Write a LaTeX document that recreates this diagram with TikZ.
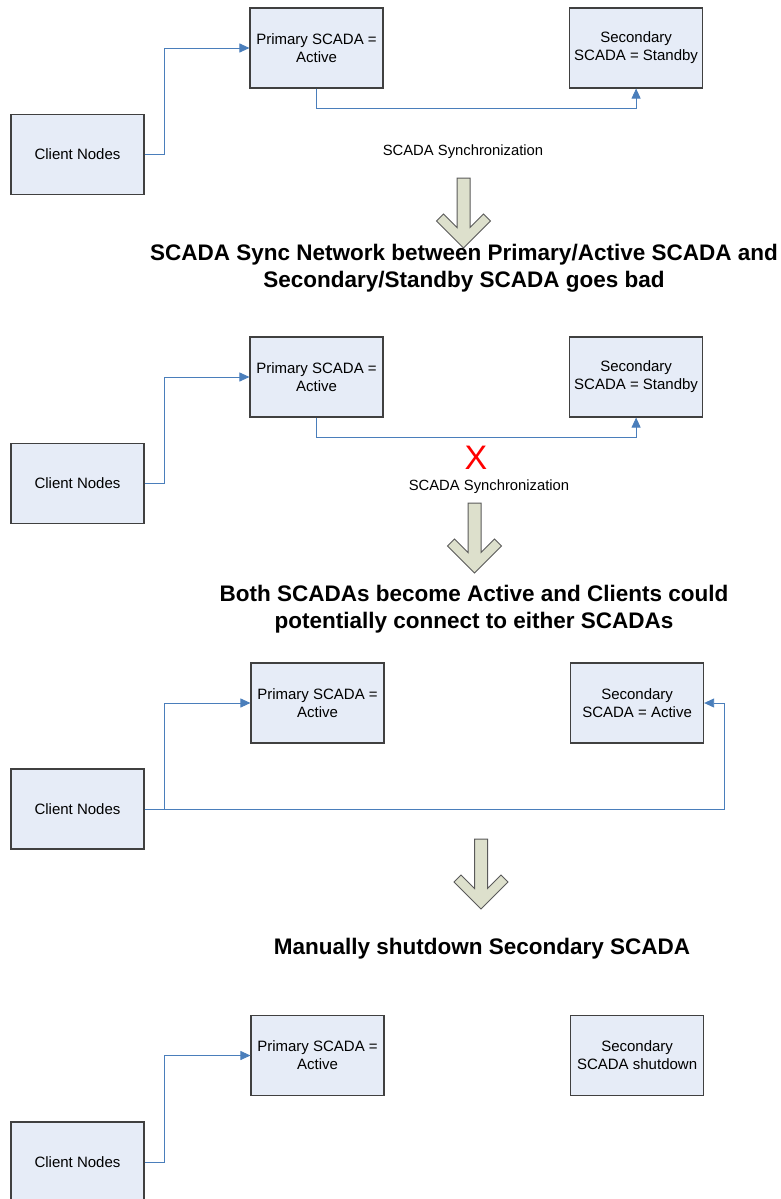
\documentclass[tikz,border=0pt]{standalone}
\usepackage{fontspec}
\setmainfont{Liberation Sans}
\usetikzlibrary{positioning, arrows.meta}

\definecolor{boxfill}{HTML}{E6ECF7}
\definecolor{boxline}{HTML}{404040}
\definecolor{linkblue}{HTML}{4A7EBB}
\definecolor{arrowfill}{HTML}{DDE0CC}
\definecolor{arrowline}{HTML}{5A5A5A}

\begin{document}
\begin{tikzpicture}[
        x=1pt, y=-1pt,
        % Node style: system boxes
        box/.style={
                rectangle, draw=boxline, fill=boxfill, line width=1.1pt,
                minimum width=133pt, minimum height=80pt, inner sep=0pt,
                align=center, font=\fontsize{15}{18}\selectfont
            },
        % Connector style
        link/.style={draw=linkblue, line width=0.9pt, -{Triangle[length=10pt,width=9pt]}},
        note/.style={font=\fontsize{14.8}{18}\selectfont},
        heading/.style={align=center, font=\fontsize{22.5}{27.5}\selectfont\bfseries},
        % Big step arrow between the stages
        bigarrow/.pic={
                \draw[draw=arrowline, fill=arrowfill, line width=1pt]
                (-6.5,0) -- (-6.5,49.5) -- (-20,36) -- (-27,43) -- (0,70)
                -- (27,43) -- (20,36) -- (6.5,49.5) -- (6.5,0) -- cycle;
            }
    ]
    \useasboundingbox (0,0) rectangle (781,1199);

    %% ---- Stage 1: normal operation ----
    \node[box] (p1) at (316.5,48) {Primary SCADA =\\Active};
    \node[box, right=185.5pt of p1] (s1) {Secondary\\SCADA = Standby};
    \node[box] (c1) at (77.5,154.5) {Client Nodes};
    \draw[link] (c1.east) -- ++(19.5,0) |- (p1.west);
    \draw[link] (p1.south) -- ++(0,20) -| (s1.south);
    \node[note] (sync1) at (463,152) {SCADA Synchronization};

    \pic (step1) at (463.5,178) {bigarrow};
    \node[heading] (head1) at (464,268)
    {SCADA Sync Network between Primary/Active SCADA and\\Secondary/Standby SCADA goes bad};

    %% ---- Stage 2: sync network broken ----
    \node[box] (p2) at (316.5,377) {Primary SCADA =\\Active};
    \node[box, right=185.5pt of p2] (s2) {Secondary\\SCADA = Standby};
    \node[box] (c2) at (77.5,483.5) {Client Nodes};
    \draw[link] (c2.east) -- ++(19.5,0) |- (p2.west);
    \draw[link] (p2.south) -- ++(0,20) -| (s2.south);
    \node[text=red, font=\fontsize{34}{34}\selectfont] (cross) at (476,458) {X};
    \node[note] (sync2) at (489,487) {SCADA Synchronization};

    \pic (step2) at (474.5,503) {bigarrow};
    \node[heading] (head2) at (474,609)
    {Both SCADAs become Active and Clients could\\potentially connect to either SCADAs};

    %% ---- Stage 3: both SCADAs active ----
    \node[box] (p3) at (317.5,703) {Primary SCADA =\\Active};
    \node[box, right=185.5pt of p3] (s3) {Secondary\\SCADA = Active};
    \node[box] (c3) at (77.5,809) {Client Nodes};
    \draw[link] (c3.east) -- ++(20,0) |- (p3.west);
    \draw[link] (c3.east) -| ([xshift=20pt]s3.east) -- (s3.east);

    \pic (step3) at (481,839) {bigarrow};
    \node[heading] (head3) at (482,949) {Manually shutdown Secondary SCADA};

    %% ---- Stage 4: secondary shut down ----
    \node[box] (p4) at (317.5,1055.5) {Primary SCADA =\\Active};
    \node[box, right=185.5pt of p4] (s4) {Secondary\\SCADA shutdown};
    \node[box] (c4) at (77.5,1162) {Client Nodes};
    \draw[link] (c4.east) -- ++(20,0) |- (p4.west);

\end{tikzpicture}
\end{document}
